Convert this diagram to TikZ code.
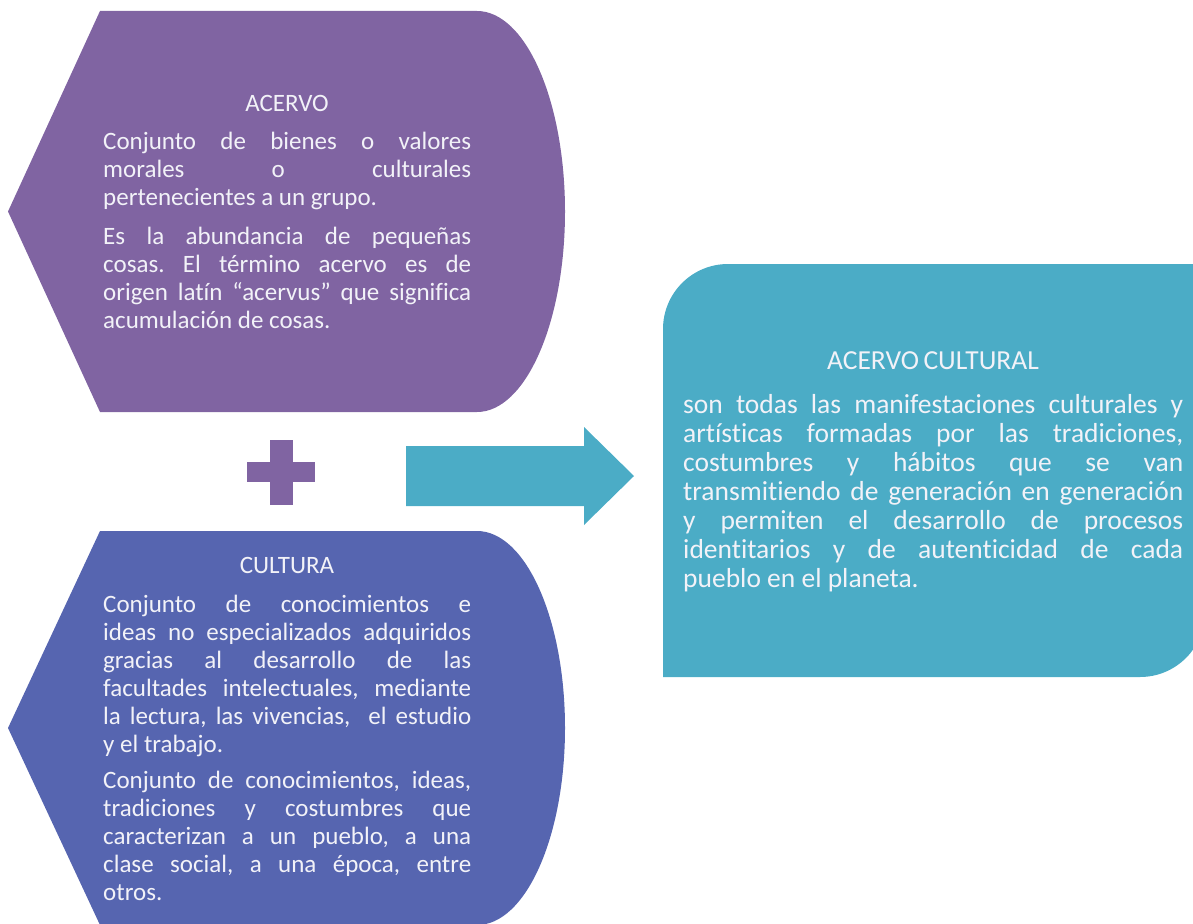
\documentclass[tikz,border=0pt]{standalone}
\usepackage{fontspec}
\setmainfont{Carlito}[Ligatures=NoCommon]
\usepackage{xcolor}
\usepackage{tikz}
\definecolor{acervopurple}{RGB}{128,100,162}
\definecolor{culturablue}{RGB}{86,101,176}
\definecolor{acervoteal}{RGB}{75,172,198}
\definecolor{softwhite}{RGB}{242,242,248}
\setlength{\parindent}{0pt}
\frenchspacing
\tolerance=10000
\hbadness=10000
\hyphenpenalty=10000

\begin{document}
\begin{tikzpicture}[x=1pt, y=-1pt,
      head/.style={text=softwhite, inner sep=0pt, font=\fontsize{25}{28}\selectfont},
      body/.style={text=softwhite, inner sep=0pt, anchor=north west, align=justify,
                   text width=368pt, font=\fontsize{25}{28}\selectfont},
      bigtext/.style={font=\fontsize{27.5}{29}\selectfont}
    ]
      \useasboundingbox (0,0) rectangle (1193,923);
      % display shapes
      \fill[acervopurple] (100,11) -- (477,11)
        arc[start angle=-90, end angle=90, x radius=88, y radius=200.5]
        -- (100,412) -- (8,211.5) -- cycle;
      \fill[culturablue] (100,531) -- (477,531)
        arc[start angle=-90, end angle=90, x radius=88, y radius=197]
        -- (100,925) -- (8,728) -- cycle;
      \fill[acervoteal] (663,677) -- (663,329)
        arc[start angle=180, end angle=270, radius=65] -- (1205,264) -- (1205,612)
        arc[start angle=0, end angle=90, radius=65] -- cycle;
      % plus and block arrow
      \fill[acervopurple] (270,440) rectangle (293,505);
      \fill[acervopurple] (247,462) rectangle (315,482);
      \fill[acervoteal] (406,446) -- (584,446) -- (584,427) -- (634,476)
        -- (584,525) -- (584,506) -- (406,506) -- cycle;
      % texts
      \node[head] (acervoHead) at (287,103) {ACERVO};
      \node[body] (acervoText) at (103,132) {Conjunto de bienes o valores\linebreak
        morales o culturales\linebreak pertenecientes a un grupo.\par\vspace{11pt}
        Es la abundancia de pequeñas\linebreak cosas. El término acervo es de\linebreak
        origen latín “acervus” que significa\linebreak acumulación de cosas.};
      \node[head] (culturaHead) at (287,565) {CULTURA};
      \node[body] (culturaText) at (103,595) {Conjunto de conocimientos e\linebreak
        ideas no especializados adquiridos\linebreak gracias al desarrollo de las\linebreak
        facultades intelectuales, mediante\linebreak la lectura, las vivencias, \ el estudio\linebreak
        y el trabajo.\par\vspace{8pt}
        Conjunto de conocimientos, ideas,\linebreak tradiciones y costumbres que\linebreak
        caracterizan a un pueblo, a una\linebreak clase social, a una época, entre\linebreak otros.};
      \node[head, bigtext] (culturalHead) at (933,361) {ACERVO\,CULTURAL};
      \node[body, bigtext, text width=500pt] (culturalText) at (683,394) {son todas las
        manifestaciones culturales y\linebreak artísticas formadas por las tradiciones,\linebreak
        costumbres y hábitos que se van\linebreak transmitiendo de generación en generación\linebreak
        y permiten el desarrollo de procesos\linebreak identitarios y de autenticidad de cada\linebreak
        pueblo en el planeta.};
    \end{tikzpicture}
\end{document}
